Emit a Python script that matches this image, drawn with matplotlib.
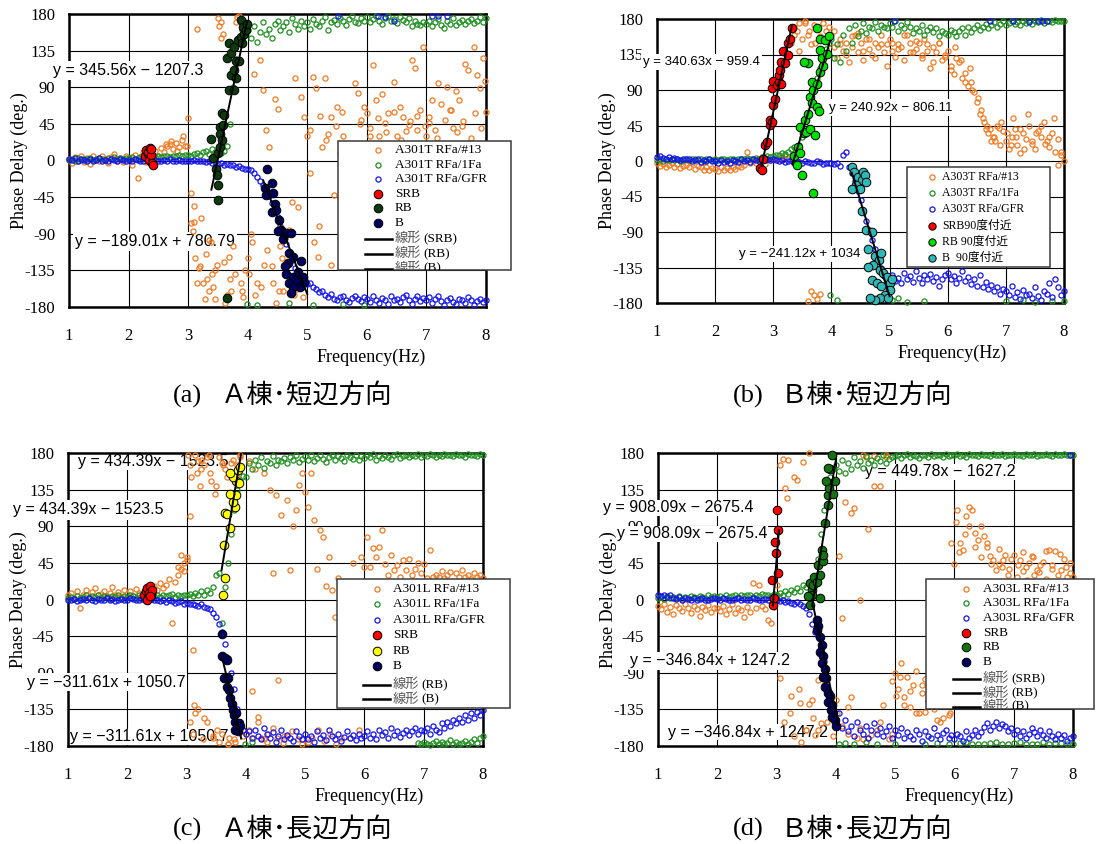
#!/usr/bin/env python3
import numpy as np
import matplotlib
matplotlib.use("Agg")
import matplotlib.pyplot as plt
from matplotlib.patches import Rectangle
from matplotlib.lines import Line2D

W, H = 1096, 844
plt.rcParams['font.family'] = ['Liberation Serif', 'Noto Sans CJK JP']

# ---------------- data ----------------
# analysis frequency bins (Hz) shared by the three measured channels
FREQ = [
    1.00, 1.05, 1.10, 1.15, 1.20, 1.25, 1.30, 1.35, 1.40, 1.45, 1.50, 1.55, 1.60, 1.65, 1.70, 1.75, 1.80, 1.85, 1.90, 1.95,
    2.00, 2.05, 2.10, 2.15, 2.20, 2.25, 2.30, 2.35, 2.40, 2.45, 2.50, 2.55, 2.60, 2.65, 2.70, 2.75, 2.80, 2.85, 2.90, 2.95,
    3.00, 3.05, 3.10, 3.15, 3.20, 3.25, 3.30, 3.35, 3.40, 3.45, 3.50, 3.55, 3.60, 3.65, 3.70, 3.75, 3.80, 3.85, 3.90, 3.95,
    4.00, 4.05, 4.10, 4.15, 4.20, 4.25, 4.30, 4.35, 4.40, 4.45, 4.50, 4.55, 4.60, 4.65, 4.70, 4.75, 4.80, 4.85, 4.90, 4.95,
    5.00, 5.05, 5.10, 5.15, 5.20, 5.25, 5.30, 5.35, 5.40, 5.45, 5.50, 5.55, 5.60, 5.65, 5.70, 5.75, 5.80, 5.85, 5.90, 5.95,
    6.00, 6.05, 6.10, 6.15, 6.20, 6.25, 6.30, 6.35, 6.40, 6.45, 6.50, 6.55, 6.60, 6.65, 6.70, 6.75, 6.80, 6.85, 6.90, 6.95,
    7.00, 7.05, 7.10, 7.15, 7.20, 7.25, 7.30, 7.35, 7.40, 7.45, 7.50, 7.55, 7.60, 7.65, 7.70, 7.75, 7.80, 7.85, 7.90, 7.95,
    8.00,
]

X_TICKS = [1, 2, 3, 4, 5, 6, 7, 8]
Y_TICKS = [180, 135, 90, 45, 0, -45, -90, -135, -180]
Y_TICK_LABELS = ['180', '135', '90', '45', '0', '-45', '-90', '-135', '-180']

# ---- (a) A棟 短辺方向 (A301T) ----
A_ORANGE = [
    2, -3, 4, 0, 5, -2, 3, -4, 6, 1, -1, 5, 2, -3, 4, 8, 0, 3, -2, 5,
    3, -5, 7, -21, 4, 10, -2, 6, 8, 12, 5, 15, 10, 18, 20, 14, 22, 16, 25, 18,
    52, -40, -75, 161, -130, -150, -115, -160, -140, -170, 175, 150, -125, -165, -145, -105, 170, 178, -160, -135,
    -120, -90, 106, -150, 123, 87, 38, 17, -130, 76, 63, -105, -160, -140, -86, -51, 101, -57, 78, 54,
    30, -15, 103, 89, -81, 17, 101, 33, 54, -42, 66, 9, 30, -65, -57, -20, 95, 83, 50, 66,
    58, 40, 117, 74, 30, 82, 46, 58, 20, 97, 30, 66, 54, 36, 44, 124, 114, 38, 62, 140,
    30, 54, 74, 38, 95, 70, 20, 90, 62, 40, 86, 74, 42, 119, 111, 28, 140, 105, 89, 126,
    60,
]
A_GREEN = [
    1, 2, 0, 3, 1, 2, 2, 3, 1, 2, 3, 2, 1, 3, 2, 4, 2, 3, 2, 3,
    3, 4, 2, 3, 4, 3, 4, 5, 3, 4, 5, 4, 5, 6, 4, 6, 5, 7, 6, 7,
    7, 6, 8, 9, 7, 10, 12, 8, 14, 10, 15, 9, 12, 18, 45, 90, 125, 148, 160, 168,
    160, 150, 165, 145, 158, 170, 155, 162, 150, 168, 172, 160, 165, 170, 158, 175, 168, 162, 172, 165,
    170, 162, 174, 168, 165, 172, 176, 160, 170, 173, 168, 175, 171, 166, 174, 178, 170, 169, 175, 172,
    176, 170, 174, 178, 172, 168, 175, 177, 171, 174, 169, 176, 173, 170, 175, 165, 172, 168, 166, 170,
    168, 172, 165, 170, 174, 167, 163, 171, 168, 175, 166, 170, 173, 168, 171, 174, 169, 172, 176, 170,
    175,
]
A_BLUE = [
    2, 1, 3, 0, 2, 1, -1, 2, 0, 1, 3, 0, 1, -1, 2, 1, 0, 2, 1, 0,
    1, 0, 2, 1, -1, 0, 2, 1, 0, 1, 0, -1, 1, 0, 2, 0, -1, 1, 0, 0,
    0, -1, 1, 0, -1, 0, -2, -1, -3, -2, -4, -3, -5, -4, -6, -5, -8, -7, -9, -10,
    -10, -12, -15, -20, -25, -30, -36, -44, -52, -60, -70, -80, -92, -102, -112, -122, -132, -140, -146, -150,
    -152, -150, -156, -158, -162, -160, -165, -168, -164, -170, -172, -168, -166, -171, -174, -169, -166, -170, -173, -168,
    -170, -174, -167, -172, -175, -169, -171, -176, -166, -172, -170, -174, -168, -165, -171, -176, -170, -167, -173, -169,
    -172, -168, -175, -170, -166, -173, -177, -171, -169, -174, -176, -170, -172, -175, -168, -171, -177, -173, -170, -174,
    -172,
]
A_ORANGE_EX_X = [3.05, 3.08, 3.10, 3.12, 3.15, 3.18, 3.22, 3.28, 3.32, 3.38, 3.42, 3.48, 3.55, 3.58, 3.62, 3.68,
                 3.72, 3.78, 3.82, 3.88, 3.92, 4.02, 4.08, 4.12, 4.22, 4.28, 4.32, 4.42, 4.48, 4.52, 4.58, 4.62,
                 4.68, 4.78, 4.82, 4.88, 4.92, 3.52, 3.45, 3.35,
                 5.05, 5.22, 5.32, 5.48, 5.58, 5.68, 5.88, 6.05, 6.18, 6.32, 6.45, 6.58, 6.72, 6.85, 6.98,
                 7.05, 7.18, 7.32, 7.42, 7.52, 7.62, 7.72, 7.82, 7.92, 7.98,
                 5.12, 5.18, 5.40, 5.55, 5.90, 2.62, 2.72, 2.82, 2.92, 2.98]
A_ORANGE_EX_Y = [-77, -87, -56, -120, -150, -132, -71, -170, -145, -100, -155, -128, 170, 155, -175, -118,
                 -160, -140, 176, -150, -168, -140, -100, -165, -155, -128, -110, -150, -175, -160, -120, -95,
                 -150, -165, -158, -142, -168, 165, -135, -98,
                 38, 55, 25, 42, 60, 20, 45, 30, 52, 35, 60, 25, 48, 55, 42,
                 46, 28, 50, 62, 35, 48, 22, 58, 40, 98,
                 -100, -118, -128, -95, -40, 20, 24, 12, 30, 18]
A_GREEN_WRAP_X = [3.98, 4.15, 4.70, 5.10, 5.60, 5.95]
A_GREEN_WRAP_Y = [-176, -178, -175, -177, -176, -178]
A_BLUE_WRAP_X = [5.51, 6.19, 6.30, 6.46, 7.10, 7.20, 7.34]
A_BLUE_WRAP_Y = [177, 177, 176, 172, 177, 177, 177]
A_SRB_X = [2.28, 2.30, 2.32, 2.33, 2.35, 2.36, 2.38, 2.38, 2.40, 2.41]
A_SRB_Y = [5, 13, 8, 11, 1, 15, 7, 14, -3, -5]
A_RB_X = [3.38, 3.42, 3.46, 3.48, 3.50, 3.50, 3.50, 3.53, 3.53, 3.53, 3.56, 3.56, 3.58, 3.61, 3.66, 3.66, 3.69,
          3.69, 3.72, 3.72, 3.77, 3.77, 3.77, 3.80, 3.80, 3.83, 3.85, 3.88, 3.88, 3.91, 3.92, 3.94, 3.97, 3.99]
A_RB_Y = [27, 3, -10, -18, -30, -48, 9, 17, 41, 33, 25, 58, 44, 56, 126, -169, 87,
          144, 105, 132, 87, 111, 140, 101, 122, 148, 122, 152, 173, 144, 164, 156, 160, 168]
A_B_X = [4.33, 4.40, 4.29, 4.31, 4.42, 4.45, 4.40, 4.48, 4.53, 4.56, 4.50, 4.59, 4.65, 4.73, 4.70,
         4.67, 4.76, 4.62, 4.65, 4.76, 4.70, 4.84, 4.89, 4.81, 4.87, 4.92, 4.76, 4.73, 4.95]
A_B_Y = [-10, -28, -34, -42, -40, -53, -63, -61, -73, -85, -87, -97, -89, -89, -114,
         -126, -118, -130, -139, -143, -151, -137, -124, -147, -155, -143, -155, -163, -149]
A_FIT_RB = (345.56, -1207.3, 3.39, 3.99)
A_FIT_B = (-189.01, 780.79, 4.26, 5.00)
A_EQ_RB = "y = 345.56x \u2212 1207.3"
A_EQ_B = "y = \u2212189.01x + 780.79"
A_NAMES = ['A301T RFa/#13', 'A301T RFa/1Fa', 'A301T RFa/GFR', 'SRB', 'RB', 'B',
           '線形 (SRB)', '線形 (RB)', '線形 (B)']

# ---- (b) B棟 短辺方向 (A303T) ----
B_ORANGE = [
    -3, -6, -4, -8, -5, -2, -7, -4, -9, -6, -5, -8, -3, -10, -6, -7, -11, -8, -12, -9,
    -10, -13, -8, -11, -9, -12, -7, -10, -6, -8, -5, 12, -3, 0, -2, 2, 0, -4, 3, 1,
    2, 4, 3, 5, 8, 2, 150, 170, 165, 175, 155, 178, 160, 148, 172, 168, 158, 175, 165, 170,
    160, 145, 130, 155, 140, 150, 125, 145, 160, 138, 150, 128, 155, 142, 135, 150, 145, 160, 138, 148,
    155, 140, 132, 148, 145, 128, 160, 150, 138, 142, 150, 135, 155, 140, 118, 145, 138, 150, 128, 135,
    140, 120, 110, 130, 125, 105, 112, 95, 100, 88, 75, 60, 55, 40, 35, 25, 30, 45, 20, 38,
    25, 15, 30, 40, 20, 10, 35, 28, 45, 22, 15, 38, 30, 50, 25, 18, 35, 12, 28, 8,
    0,
]
B_GREEN = [
    1, 2, 0, 2, 1, 3, 1, 2, 0, 1, 2, 1, 3, 2, 1, 2, 0, 3, 2, 1,
    2, 1, 3, 2, 1, 2, 3, 1, 2, 3, 2, 4, 3, 2, 4, 3, 5, 4, 6, 5,
    6, 8, 7, 10, 9, 12, 15, 18, 14, 20, 30, 45, 60, 75, 90, 105, 118, 130, 142, 150,
    155, 130, 148, 125, 160, 140, 168, 150, 172, 158, 165, 175, 162, 170, 168, 176, 165, 172, 170, 168,
    175, 170, 178, 165, 172, 168, 176, 170, 162, 168, 165, 172, 160, 166, 170, 164, 168, 158, 165, 162,
    160, 166, 163, 158, 165, 168, 160, 170, 164, 168, 172, 166, 170, 174, 168, 172, 176, 170, 174, 178,
    172, 175, 178, 174, 176, 172, 178, 175, 177, 174, 178, 176, 179, 175, 177, 178, 176, 179, 177, 178,
    178,
]
B_BLUE = [
    5, 6, 4, 3, 5, 2, 4, 3, 1, 2, 3, 2, 0, 1, 2, -1, 1, 0, 2, 0,
    0, -2, 1, -1, 0, -3, 1, 0, -1, 2, 0, 1, -1, 2, 1, 0, 3, 1, 2, 1,
    2, 1, 0, 1, -1, 0, 1, -2, 0, -1, -2, 0, -1, -3, -2, 0, -1, -4, -2, -3,
    -3, -4, -2, -6, 8, 12, -8, -15, -25, -38, -50, -62, -76, -88, -100, -112, -124, -136, -146, -152,
    -150, -145, -152, -148, -155, -142, -150, -146, -153, -140, -148, -155, -145, -150, -143, -152, -147, -158, -149, -145,
    -142, -150, -146, -155, -148, -140, -152, -147, -156, -150, -158, -145, -160, -153, -162, -157, -165, -160, -168, -162,
    -165, -170, -158, -172, -166, -175, -163, -170, -168, -174, -160, -171, -176, -165, -169, -155, -172, -150, -160, -170,
    -165,
]
B_ORANGE_EX_X = [3.35, 3.45, 3.55, 3.62, 3.72, 3.82, 3.92, 4.05, 4.15, 4.25, 4.35, 4.45, 4.55, 4.65, 4.75,
                 4.85, 4.95, 5.05, 5.15, 5.25, 5.35, 5.45, 5.55, 5.65, 5.75, 5.85, 5.95, 6.05, 6.12, 6.22,
                 6.30, 6.38, 6.42, 6.52, 6.58, 6.62, 6.68, 6.72, 6.78, 6.82, 6.88, 6.92, 7.02, 7.08, 7.12,
                 7.18, 7.25, 7.32, 7.38, 7.45, 7.52, 7.60, 7.68, 7.75, 7.82, 7.90, 7.95, 3.65, 3.70, 3.75,
                 3.80, 3.60]
B_ORANGE_EX_Y = [160, 140, 175, 165, 150, 130, 155, 165, 148, 135, 158, 162, 140, 155, 130,
                 148, 120, 150, 142, 160, 138, 152, 130, 148, 125, 150, 132, 115, 145, 128,
                 100, 118, 90, 80, 65, 50, 45, 40, 30, 25, 42, 50, 35, 20, 55,
                 30, 40, 15, 60, 25, 35, 45, 22, 30, 55, -5, 12, -165, -170, -175,
                 -168, -178]
B_GREEN_WRAP_X = [3.98, 4.10, 4.72, 4.80, 4.88, 4.95, 5.05, 5.15, 5.30, 5.60, 7.00, 7.30, 7.50, 7.80, 8.00]
B_GREEN_WRAP_Y = [-170, -176, -178, -175, -172, -170, -176, -174, -179, -178, -178, -176, -179, -177, -178]
B_BLUE_WRAP_X = [5.07, 6.73, 7.13, 7.40, 7.55, 7.62, 7.70]
B_BLUE_WRAP_Y = [178, 177, 177, 176, 178, 177, 178]
B_SRB_X = [2.77, 2.80, 2.83, 2.86, 2.89, 2.94, 2.94, 2.97, 2.97, 3.00, 3.00, 3.03, 3.06, 3.09, 3.09, 3.12,
           3.14, 3.14, 3.17, 3.20, 3.26, 3.26, 3.29, 3.32]
B_SRB_Y = [-9, -11, 2, 20, 24, 46, 52, 50, 92, 71, 101, 79, 96, 100, 109, 115,
           98, 126, 139, 124, 134, 149, 155, 168]
B_RB_X = [3.35, 3.40, 3.43, 3.46, 3.46, 3.49, 3.52, 3.55, 3.57, 3.60, 3.60, 3.63, 3.63, 3.66, 3.66, 3.69,
          3.69, 3.72, 3.75, 3.75, 3.75, 3.78, 3.80, 3.80, 3.80, 3.83, 3.86, 3.89, 3.92, 3.95, 3.52]
B_RB_Y = [6, -5, 18, 10, 43, -18, 35, 52, 37, 60, 124, 41, 81, 73, 100, 90,
          -40, 33, 69, 98, 169, 64, 113, 141, 155, 130, 120, 153, 136, 158, 126]
B_B_X = [4.35, 4.38, 4.46, 4.55, 4.52, 4.58, 4.43, 4.35, 4.49, 4.60, 4.52, 4.60, 4.69, 4.63, 4.75, 4.81, 4.86,
         4.72, 4.63, 4.84, 4.89, 4.95, 4.69, 4.78, 4.86, 5.01, 5.04, 5.01, 4.92, 4.84, 4.75, 4.66, 4.98]
B_B_Y = [-7, -14, -20, -14, -24, -18, -30, -35, -35, -26, -64, -87, -90, -111, -121, -125, -117,
         -132, -134, -138, -142, -147, -151, -155, -159, -155, -149, -163, -170, -174, -176, -174, -174]
B_FIT_SRB = (340.63, -959.4, 2.80, 3.32)
B_FIT_RB = (240.92, -806.11, 3.33, 3.98)
B_FIT_B = (-241.12, 1034.0, 4.35, 5.00)
B_EQ_SRB = "y = 340.63x \u2212 959.4"
B_EQ_RB = "y = 240.92x \u2212 806.11"
B_EQ_B = "y = \u2212241.12x + 1034"
B_NAMES = ['A303T RFa/#13', 'A303T RFa/1Fa', 'A303T RFa/GFR', 'SRB90度付近', 'RB 90度付近', 'B  90度付近']

# ---- (c) A棟 長辺方向 (A301L) ----
C_ORANGE = [
    5, 8, 2, 10, -10, 6, 12, 3, 9, 14, 5, 7, 11, 4, 8, 15, 6, 9, 3, 12,
    7, 10, 4, 13, 8, 6, 11, 15, 9, 16, 12, 20, 14, 18, 25, -29, 22, 30, 38, 45,
    52, 103, -62, 178, -135, 172, 165, -150, 155, -170, 140, 175, -165, 160, -178, 168, -172, 150, 175, -168,
    -165, 170, -113, 160, -144, -170, 155, -175, 134, 32, 128, -99, 104, -168, 122, 36, 90, 110, 141, 155,
    132, 114, 155, 98, 38, 85, 77, 16, 52, 12, -21, 26, -54, 8, -37, -170, 45, 20, -160, 52,
    40, 77, 40, 63, 52, 65, 85, 44, 30, 55, 36, 42, 28, 49, 36, 50, 30, 38, 45, 32,
    44, 26, 61, 28, 30, 28, 35, 26, 30, 34, 22, 32, 28, 36, 28, 30, 25, 33, 28, 30,
    26,
]
C_GREEN = [
    2, 3, 1, 4, 2, 3, 5, 2, 4, 3, 5, 2, 4, 3, 1, 4, 3, 5, 2, 4,
    3, 5, 4, 2, 6, 4, 3, 5, 6, 4, 5, 3, 6, 4, 5, 7, 3, 6, 4, 5,
    5, 7, 4, 8, 6, 10, 5, 12, 8, 15, 30, 32, -29, 15, 45, 80, 110, 135, 145, 152,
    150, 168, 160, 172, 165, 175, 162, 170, 168, 176, 165, 172, 170, 174, 168, 175, 171, 177, 169, 173,
    176, 172, 178, 170, 174, 177, 173, 169, 175, 178, 172, 176, 174, 170, 177, 175, 173, 178, 171, 176,
    174, 177, 175, 179, 172, 176, 174, 178, 175, 173, 177, 179, 174, 176, 178, 175, 177, 176, 179, 175,
    178, 176, 179, 177, 175, 178, 176, 179, 177, 178, 176, 179, 177, 178, 175, 179, 177, 178, 176, 179,
    178,
]
C_BLUE = [
    0, -1, 1, -2, 0, 1, -1, 2, 0, -2, 1, 0, -1, 2, 0, 1, -2, 0, 1, -1,
    0, 2, 1, 0, -1, 1, 0, -2, 1, 0, -1, -2, 0, -3, -1, -2, -4, -3, -2, -5,
    -4, -6, -5, -7, -8, -6, -9, -10, -12, -16, -22, -30, -40, -55, -72, -90, -110, -135, -150, -160,
    -165, -162, -170, -160, -168, -172, -158, -165, -170, -163, -175, -168, -160, -172, -166, -170, -174, -162, -168, -171,
    -165, -172, -168, -175, -162, -170, -166, -173, -160, -168, -171, -165, -174, -169, -162, -170, -167, -173, -165, -170,
    -168, -162, -170, -165, -172, -160, -167, -163, -170, -158, -166, -162, -169, -164, -160, -167, -162, -158, -165, -160,
    -162, -158, -165, -155, -160, -163, -152, -158, -150, -155, -148, -152, -145, -150, -142, -148, -140, -145, -138, -142,
    -136,
]
C_ORANGE_EX_X = [3.02, 3.05, 3.08, 3.12, 3.15, 3.20, 3.25, 3.30, 3.35, 3.42, 3.48, 3.55, 3.62, 3.68, 3.72,
                 3.78, 3.85, 3.90, 3.05, 3.10, 3.18, 3.22, 3.28, 3.38, 3.45, 3.52, 3.60, 3.70, 3.82, 4.05,
                 4.12, 4.20, 4.30, 4.38, 4.45, 4.52, 4.62, 4.70, 4.78, 4.88, 4.95, 5.05, 5.12, 5.22, 5.32,
                 5.42, 5.52, 5.60, 2.85, 2.90, 2.95, 3.00]
C_ORANGE_EX_Y = [177, 165, 150, -130, -140, 170, 160, -145, 175, 145, 130, -175, 165, 150, -170,
                 172, 165, 178, -150, -165, 155, 140, -172, 178, -168, -160, 168, -178, -175, -160,
                 -170, -150, -172, -165, -158, -170, -176, -168, -162, -172, -178, -175, -170, -160, -174,
                 -165, -178, -170, 40, 55, 35, 48]
C_GREEN_WRAP_X = [6.90, 6.95, 7.00, 7.05, 7.10, 7.15, 7.20, 7.25, 7.30, 7.35, 7.40, 7.45, 7.50, 7.55, 7.60,
                  7.65, 7.70, 7.75, 7.80, 7.85, 7.90, 7.95, 8.00, 3.98, 4.10]
C_GREEN_WRAP_Y = [-176, -178, -175, -177, -179, -176, -174, -177, -175, -178, -176, -173, -177, -175, -178,
                  -176, -174, -177, -175, -172, -176, -170, -168, -177, -175]
C_SRB_X = [2.28, 2.31, 2.33, 2.35, 2.36, 2.38, 2.40, 2.42, 2.33, 2.38]
C_SRB_Y = [5, 10, 14, 2, 8, 16, 6, 12, 0, 4]
C_RB_X = [3.61, 3.65, 3.63, 3.73, 3.65, 3.69, 3.82, 3.78, 3.83, 3.73, 3.84, 3.78, 3.73, 3.86, 3.90, 3.89]
C_RB_Y = [5, 26, 67, 88, 106, 105, 114, 120, 128, 130, 145, 151, 155, 159, 163, 143]
C_B_X = [3.59, 3.59, 3.65, 3.68, 3.63, 3.70, 3.68, 3.72, 3.73, 3.76, 3.78, 3.80, 3.84, 3.82, 3.86, 3.89,
         3.82, 3.87, 3.90]
C_B_Y = [-42, -70, -72, -74, -97, -97, -107, -111, -121, -128, -136, -142, -140, -150, -154, -152,
         -160, -162, -156]
C_FIT_RB = (434.39, -1523.5, 3.59, 3.92)
C_FIT_B = (-311.61, 1050.7, 3.62, 3.92)
C_EQ_RB = "y = 434.39x \u2212 1523.5"
C_EQ_B = "y = \u2212311.61x + 1050.7"
C_NAMES = ['A301L RFa/#13', 'A301L RFa/1Fa', 'A301L RFa/GFR', 'SRB', 'RB', 'B', '線形 (RB)', '線形 (B)']

# ---- (d) B棟 長辺方向 (A303L) ----
D_ORANGE = [
    -8, -12, -5, -15, -9, -18, -7, -11, -14, -6, -10, -16, -8, -12, -20, -9, -13, -7, -15, -11,
    -10, -14, -8, -18, -12, -6, -16, -10, -13, -22, -9, -15, 20, -11, 18, -8, -12, -25, -29, -9,
    18, -97, 173, 137, 171, -119, 151, 147, -127, 169, -160, 180, -123, -166, -99, -152, -105, -115, -119, -168,
    -123, 53, -23, 120, -132, 106, 112, -170, 0, -172, 175, 87, -166, 139, -160, 139, -130, 175, -172, -100,
    -90, -110, -78, -120, -95, -132, -105, -88, -140, -115, -98, -125, -108, -135, -92, -118, -145, -100, -128, 69,
    44, 110, 69, 61, 102, 90, 110, 82, 73, 90, 78, 65, 53, 48, 36, 44, 40, 55, 30, 50,
    55, 28, 49, 35, 40, 45, 53, 30, 36, 42, 46, 25, 61, 38, 59, 30, 36, 50, 28, 33,
    28,
]
D_GREEN = [
    2, 3, 1, 4, 2, 3, 2, 4, 1, 3, 2, 4, 3, 2, 4, 3, 2, 5, 3, 4,
    3, 4, 2, 5, 3, 4, 6, 3, 5, 4, 6, 5, 3, 6, 4, 7, 5, 6, 4, 7,
    6, 8, 5, 10, 7, 12, 9, 14, 11, 18, 15, 22, 20, 28, 50, 80, 110, 130, 150, 160,
    165, 158, 172, 155, 168, 160, 175, 165, 170, 162, 176, 168, 172, 165, 174, 170, 177, 168, 173, 175,
    176, 178, 174, 177, 179, 175, 178, 176, 174, 178, 177, 175, 179, 176, 178, 177, 175, 179, 176, 178,
    177, 179, 176, 178, 175, 179, 177, 178, 176, 179, 177, 178, 176, 179, 178, 177, 179, 176, 178, 177,
    179, 177, 178, 176, 179, 178, 177, 179, 176, 178, 177, 179, 178, 176, 179, 177, 178, 179, 177, 178,
    178,
]
D_BLUE = [
    5, 4, 6, 3, 5, 2, 1, 3, 0, 2, 1, -1, 2, 0, 1, 2, 0, -1, 1, 2,
    1, 0, 2, 1, -1, 0, 1, 2, 0, 1, -1, 0, 2, 1, 0, -1, 1, 0, 2, -1,
    0, -2, -1, -3, -2, -4, -5, -3, -6, -8, -10, -18, -30, -40, -45, -60, -75, -95, -115, -135,
    -150, -140, -158, -148, -162, -155, -168, -150, -160, -165, -155, -170, -160, -152, -165, -158, -168, -162, -155, -170,
    -160, -166, -158, -170, -163, -168, -172, -160, -165, -174, -162, -168, -170, -158, -166, -172, -164, -160, -170, -167,
    -172, -165, -168, -174, -162, -170, -166, -160, -168, -163, -157, -152, -160, -155, -150, -158, -153, -156, -162, -158,
    -165, -160, -168, -162, -170, -165, -158, -163, -168, -160, -166, -170, -162, -168, -172, -165, -170, -167, -174, -170,
    -168,
]
D_ORANGE_EX_X = [3.05, 3.12, 3.18, 3.22, 3.30, 3.38, 3.42, 3.50, 3.55, 3.62, 3.70, 3.78, 3.85, 3.92, 4.02,
                 4.10, 4.20, 4.25, 4.40, 4.45, 4.55, 4.65, 4.75, 4.85, 4.95, 5.02, 5.08, 5.15, 5.25, 5.35,
                 5.45, 5.55, 5.65, 5.75, 5.85, 5.92, 6.02, 6.08, 6.18, 6.25, 6.35, 6.45, 6.55, 6.62, 6.75,
                 6.82, 6.92, 7.08, 7.15, 7.22, 7.32, 7.42, 7.55, 7.65, 7.78, 7.88, 7.95, 5.50, 5.70, 5.90]
D_ORANGE_EX_Y = [165, -150, 125, -140, -168, -110, -175, -160, -128, -145, -160, -98, -150, -128, -140,
                 -155, -165, -120, -158, 178, -170, 176, -150, 178, -165, -118, -95, -130, -112, -140,
                 -105, -125, -90, -150, -115, -140, 95, 58, 80, 114, 65, 52, 70, 44, 62,
                 48, 38, 42, 58, 24, 52, 34, 60, 42, 56, 40, 45, -138, -148, -142]
D_GREEN_WRAP_X = [4.05, 4.15, 4.30, 4.50, 4.70, 5.00, 5.50, 6.10, 6.30, 6.50, 6.70, 6.90, 7.00, 7.20, 7.40,
                  7.50, 7.60, 7.80, 8.00, 5.70, 5.90, 6.20, 6.40, 6.60, 6.80, 7.10, 7.30, 7.70, 7.90]
D_GREEN_WRAP_Y = [-178, -176, -178, -175, -178, -177, -178, -176, -178, -177, -175, -178, -176, -178, -177,
                  -175, -178, -176, -178, -176, -178, -175, -177, -176, -178, -175, -177, -176, -177]
D_BLUE_WRAP_X = [7.95]
D_BLUE_WRAP_Y = [178]
D_SRB_X = [2.94, 2.96, 2.93, 3.03, 2.99, 2.97, 3.03, 3.00]
D_SRB_Y = [-7, 2, 24, 32, 57, 71, 85, 110]
D_RB_X = [3.59, 3.56, 3.63, 3.62, 3.68, 3.73, 3.70, 3.76, 3.79, 3.76, 3.79, 3.82, 3.87, 3.86, 3.89, 3.84,
          3.96, 3.98, 3.90, 3.93, 3.87, 3.59, 3.53, 3.56, 3.73]
D_RB_Y = [12, 20, 28, 18, 22, 30, 42, 49, 47, 61, 55, 94, 116, 128, 137, 145,
          130, 146, 160, 178, 162, 6, 4, -7, 2]
D_B_X = [3.68, 3.70, 3.68, 3.73, 3.76, 3.74, 3.79, 3.76, 3.82, 3.79, 3.84, 3.82, 3.87, 3.90, 3.86, 3.93,
         3.91, 3.96, 3.93, 3.98, 4.01]
D_B_Y = [-25, -33, -37, -46, -56, -64, -70, -78, -85, -95, -97, -107, -115, -119, -126, -130,
         -136, -140, -144, -148, -156]
D_FIT_SRB = (908.09, -2675.4, 2.938, 3.040)
D_FIT_RB = (449.78, -1627.2, 3.60, 4.00)
D_FIT_B = (-346.84, 1247.2, 3.62, 4.04)
D_EQ_SRB = "y = 908.09x \u2212 2675.4"
D_EQ_RB = "y = 449.78x \u2212 1627.2"
D_EQ_B = "y = \u2212346.84x + 1247.2"
D_NAMES = ['A303L RFa/#13', 'A303L RFa/1Fa', 'A303L RFa/GFR', 'SRB', 'RB', 'B',
           '線形 (SRB)', '線形 (RB)', '線形 (B)']

# ---------------- style ----------------
ORANGE = '#F27A22'
GREEN = '#1F8F1F'
BLUE = '#1414F0'
RED = '#FF0000'
NAVY = '#00005E'
A_RB_COLOR = '#0E3B0E'
B_RB_COLOR = '#00E000'
B_B_COLOR = '#30B8B8'
C_RB_COLOR = '#FFFF00'
D_RB_COLOR = '#137313'

fig = plt.figure(figsize=(W / 100, H / 100), dpi=100)


def add_axes_px(l, t, r, b):
    ax = fig.add_axes([l / W, 1 - b / H, (r - l) / W, (b - t) / H])
    ax.set_xlim(1, 8)
    ax.set_ylim(-180, 180)
    ax.set_xticks(X_TICKS)
    ax.set_yticks(Y_TICKS)
    ax.set_yticklabels(Y_TICK_LABELS)
    ax.set_axisbelow(True)
    ax.grid(True, color='black', lw=0.8)
    ax.tick_params(length=0, labelsize=12)
    ax.tick_params(axis='x', pad=15)
    ax.tick_params(axis='y', pad=10)
    for s in ax.spines.values():
        s.set_linewidth(1.8)
    wpx, hpx = r - l, b - t
    ax.set_ylabel('Phase Delay (deg.)', fontsize=13, va='center')
    ax.yaxis.set_label_coords(-50 / wpx, 0.5)
    ax.set_xlabel('Frequency(Hz)', fontsize=13, va='center')
    ax.xaxis.set_label_coords(0.725, -50 / hpx)
    return ax


def bg(ax, x, y, color):
    ax.plot(x, y, ls='none', marker='o', ms=3.7, mfc='none', mec=color, mew=0.9,
            clip_on=False, zorder=4)


def hi(ax, x, y, color):
    ax.plot(x, y, ls='none', marker='o', ms=6.2, mfc=color, mec='black', mew=0.7,
            clip_on=False, zorder=5)


def fit(ax, coef):
    slope, icpt, x0, x1 = coef
    xs = np.array([x0, x1])
    ax.plot(xs, slope * xs + icpt, color='black', lw=1.4, zorder=6)


def eq(ax, x, y, s, size, z=3, pad=1.5):
    ax.text(x, y, s, fontsize=size, family='Liberation Sans', ha='left', va='center',
            clip_on=False, zorder=z, bbox=dict(facecolor='white', edgecolor='none', pad=pad))


def legend(box, rows, mx, tx, lx, kinds, names, size=9.5, ms_scale=1.0):
    l, t, r, b = box
    rect = Rectangle((l / W, 1 - b / H), (r - l) / W, (b - t) / H, transform=fig.transFigure,
                     facecolor='white', edgecolor='#3a3a3a', lw=1.1, zorder=10)
    fig.add_artist(rect)
    for (kind, color), name, yy in zip(kinds, names, rows):
        fy = 1 - yy / H
        if kind == 'open':
            art = Line2D([mx / W], [fy], ls='none', marker='o', ms=3.7, mfc='none', mec=color,
                         mew=0.9, transform=fig.transFigure, zorder=11)
        elif kind == 'filled':
            art = Line2D([mx / W], [fy], ls='none', marker='o', ms=6.2 * ms_scale, mfc=color,
                         mec='black', mew=0.7, transform=fig.transFigure, zorder=11)
        else:
            art = Line2D([lx[0] / W, lx[1] / W], [fy, fy], color='black', lw=1.8,
                         transform=fig.transFigure, zorder=11)
        fig.add_artist(art)
        art.set_clip_path(rect)
        if name.startswith('線形'):
            t1 = fig.text(tx / W, fy, '線形', fontsize=size, color='#555555', va='center', zorder=11)
            t2 = fig.text((tx + 28) / W, fy, name[2:].strip(), fontsize=size, va='center', zorder=11)
            t1.set_clip_path(rect)
            t2.set_clip_path(rect)
        else:
            txt = fig.text(tx / W, fy, name, fontsize=size, va='center', zorder=11)
            txt.set_clip_path(rect)


def caption(xp, xt, y, paren, text):
    fig.text(xp / W, 1 - y / H, paren, fontsize=19, family='Liberation Serif', va='center')
    fig.text(xt / W, 1 - y / H, text, fontsize=19, family='Noto Sans CJK JP', va='center')


def draw_background(ax, orange, orange_ex, green, green_wrap, blue, blue_wrap):
    bg(ax, FREQ, orange, ORANGE)
    bg(ax, orange_ex[0], orange_ex[1], ORANGE)
    bg(ax, FREQ, green, GREEN)
    bg(ax, green_wrap[0], green_wrap[1], GREEN)
    bg(ax, FREQ, blue, BLUE)
    bg(ax, blue_wrap[0], blue_wrap[1], BLUE)


# ---------------- (a) ----------------
ax = add_axes_px(69, 14, 486, 307)
draw_background(ax, A_ORANGE, (A_ORANGE_EX_X, A_ORANGE_EX_Y), A_GREEN,
                (A_GREEN_WRAP_X, A_GREEN_WRAP_Y), A_BLUE, (A_BLUE_WRAP_X, A_BLUE_WRAP_Y))
hi(ax, A_SRB_X, A_SRB_Y, RED)
hi(ax, A_RB_X, A_RB_Y, A_RB_COLOR)
hi(ax, A_B_X, A_B_Y, NAVY)
fit(ax, A_FIT_RB)
fit(ax, A_FIT_B)
eq(ax, 0.73, 111, A_EQ_RB, 11.5)
eq(ax, 1.10, -100, A_EQ_B, 11.5)
kinds9 = [('open', ORANGE), ('open', GREEN), ('open', BLUE), ('filled', RED),
          ('filled', A_RB_COLOR), ('filled', NAVY), ('line', None), ('line', None), ('line', None)]
legend((338, 141, 511, 270), [150, 164.5, 179, 194, 208.3, 222.5, 239, 254, 268.5],
       378, 395, (365, 392), kinds9, A_NAMES)
caption(173, 221, 396, '(a)', 'Ａ棟･短辺方向')

# ---------------- (b) ----------------
ax = add_axes_px(657, 19, 1064, 303)
draw_background(ax, B_ORANGE, (B_ORANGE_EX_X, B_ORANGE_EX_Y), B_GREEN,
                (B_GREEN_WRAP_X, B_GREEN_WRAP_Y), B_BLUE, (B_BLUE_WRAP_X, B_BLUE_WRAP_Y))
hi(ax, B_SRB_X, B_SRB_Y, RED)
hi(ax, B_RB_X, B_RB_Y, B_RB_COLOR)
hi(ax, B_B_X, B_B_Y, B_B_COLOR)
fit(ax, B_FIT_SRB)
fit(ax, B_FIT_RB)
fit(ax, B_FIT_B)
eq(ax, 0.76, 125.5, B_EQ_SRB, 9.5)
eq(ax, 3.96, 67.8, B_EQ_RB, 9.5)
eq(ax, 2.41, -118, B_EQ_B, 9.5)
kinds6 = [('open', ORANGE), ('open', GREEN), ('open', BLUE), ('filled', RED),
          ('filled', B_RB_COLOR), ('filled', B_B_COLOR)]
legend((907, 167, 1050, 267), [176.7, 193, 208.5, 226, 242, 258], 932, 942, (0, 0),
       kinds6, B_NAMES, size=8.5, ms_scale=0.85)
caption(733, 781, 396, '(b)', 'Ｂ棟･短辺方向')

# ---------------- (c) ----------------
ax = add_axes_px(68, 453, 483, 746)
draw_background(ax, C_ORANGE, (C_ORANGE_EX_X, C_ORANGE_EX_Y), C_GREEN,
                (C_GREEN_WRAP_X, C_GREEN_WRAP_Y), C_BLUE, ([], []))
hi(ax, C_SRB_X, C_SRB_Y, RED)
hi(ax, C_RB_X, C_RB_Y, C_RB_COLOR)
hi(ax, C_B_X, C_B_Y, NAVY)
fit(ax, C_FIT_RB)
fit(ax, C_FIT_B)
eq(ax, 1.17, 169.5, C_EQ_RB, 11.5, z=2.4, pad=0.5)
eq(ax, 0.07, 110, C_EQ_RB, 11.5)
eq(ax, 0.31, -101.5, C_EQ_B, 11.5, pad=0.8)
eq(ax, 1.03, -168.5, C_EQ_B, 11.5, z=2.4, pad=0.5)
kinds8 = [('open', ORANGE), ('open', GREEN), ('open', BLUE), ('filled', RED),
          ('filled', C_RB_COLOR), ('filled', NAVY), ('line', None), ('line', None)]
legend((337, 579, 510, 708), [589.3, 604.3, 620, 635, 650.7, 666, 685, 699.3],
       377, 393, (363, 390), kinds8, C_NAMES)
caption(173, 221, 829, '(c)', 'Ａ棟･長辺方向')

# ---------------- (d) ----------------
ax = add_axes_px(658, 453, 1073, 746)
draw_background(ax, D_ORANGE, (D_ORANGE_EX_X, D_ORANGE_EX_Y), D_GREEN,
                (D_GREEN_WRAP_X, D_GREEN_WRAP_Y), D_BLUE, (D_BLUE_WRAP_X, D_BLUE_WRAP_Y))
hi(ax, D_SRB_X, D_SRB_Y, RED)
hi(ax, D_RB_X, D_RB_Y, D_RB_COLOR)
hi(ax, D_B_X, D_B_Y, NAVY)
fit(ax, D_FIT_SRB)
fit(ax, D_FIT_RB)
fit(ax, D_FIT_B)
eq(ax, 4.49, 156.7, D_EQ_RB, 11.5, z=2.4, pad=0.5)
eq(ax, 0.07, 112.5, D_EQ_SRB, 11.5, pad=0.6)
eq(ax, 0.31, 80.5, D_EQ_SRB, 11.5, pad=0.6)
eq(ax, 0.53, -75.5, D_EQ_B, 11.5, pad=0.8)
eq(ax, 1.17, -162.8, D_EQ_B, 11.5, z=2.4, pad=0.5)
kinds9d = [('open', ORANGE), ('open', GREEN), ('open', BLUE), ('filled', RED),
           ('filled', D_RB_COLOR), ('filled', NAVY), ('line', None), ('line', None), ('line', None)]
legend((926, 579, 1094, 709), [589.3, 603.3, 618.3, 632.7, 647.3, 661.7, 679, 693.3, 706.7],
       966, 983, (953, 980), kinds9d, D_NAMES)
caption(733, 781, 829, '(d)', 'Ｂ棟･長辺方向')

fig.savefig('out.png', dpi=100)
